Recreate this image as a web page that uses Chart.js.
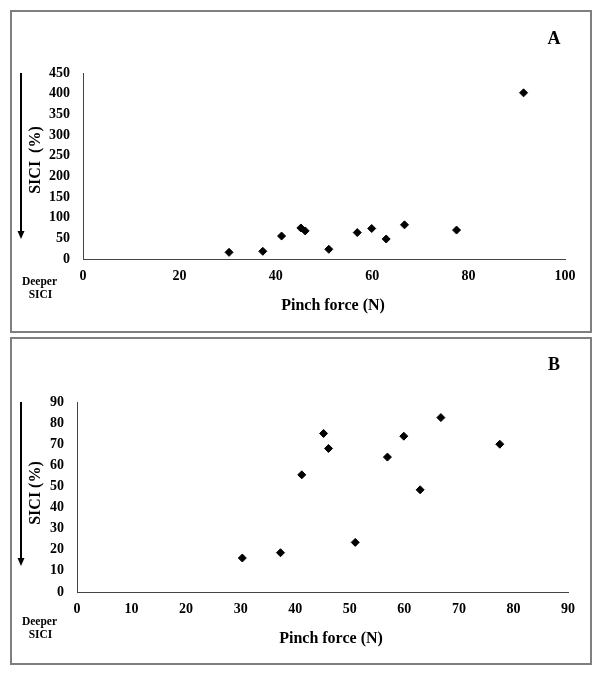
<!DOCTYPE html>
<html>
<head>
<meta charset="utf-8">
<script src="https://cdn.jsdelivr.net/npm/chart.js@4.4.1/dist/chart.umd.min.js"></script>
<style>
  body { margin: 0; background: #fff; }
  .panel { position: absolute; left: 10px; width: 578px; border: 2px solid #7f7f7f; background: #fff; }
  #boxA { top: 10px; height: 319px; }
  #boxB { top: 337px; height: 324px; }
  canvas { display: block; }
</style>
</head>
<body>
<div class="panel" id="boxA"><canvas id="chartA" width="578" height="319"></canvas></div>
<div class="panel" id="boxB"><canvas id="chartB" width="578" height="324"></canvas></div>
<script>
// panel A (all subjects)
const forceA = [30.3, 37.3, 41.2, 45.2, 46.1, 51.0, 56.9, 59.9, 62.9, 66.7, 77.5, 91.4];
const siciA = [16.1, 18.6, 55.5, 75.1, 68.0, 23.5, 63.9, 73.8, 48.4, 82.6, 70.0, 402];

// panel B (outlier removed)
const forceB = [30.3, 37.3, 41.2, 45.2, 46.1, 51.0, 56.9, 59.9, 62.9, 66.7, 77.5];
const siciB = [16.1, 18.6, 55.5, 75.1, 68.0, 23.5, 63.9, 73.8, 48.4, 82.6, 70.0];

const xTitle = "Pinch force (N)";
const yTitleA = "SICI  (%)";
const yTitleB = "SICI (%)";
const deeperLines = ["Deeper", "SICI"];

const serif = "'Liberation Serif', 'Times New Roman', serif";

// draws the arrow, axis titles, "Deeper SICI" and the panel letter
const notesPlugin = {
  id: "notes",
  afterDraw(chart, args, opts) {
    const ctx = chart.ctx;
    const area = chart.chartArea;
    ctx.save();
    ctx.fillStyle = "#000";
    ctx.strokeStyle = "#000";

    // downward arrow
    ctx.lineWidth = 2;
    ctx.beginPath();
    ctx.moveTo(9, area.top);
    ctx.lineTo(9, opts.arrowEnd - 6);
    ctx.stroke();
    ctx.beginPath();
    ctx.moveTo(5.5, opts.arrowEnd - 8);
    ctx.lineTo(12.5, opts.arrowEnd - 8);
    ctx.lineTo(9, opts.arrowEnd);
    ctx.closePath();
    ctx.fill();

    // y title
    ctx.font = "bold 16px " + serif;
    ctx.textAlign = "center";
    ctx.textBaseline = "middle";
    ctx.save();
    ctx.translate(23.5, opts.yTitleY);
    ctx.rotate(-Math.PI / 2);
    ctx.fillText(opts.yTitle, 0, 0);
    ctx.restore();

    // x title
    ctx.fillText(xTitle, opts.xTitleX, opts.xTitleY);

    // deeper SICI
    ctx.font = "bold 11.5px " + serif;
    ctx.fillText(deeperLines[0], 27.5, opts.deeperY);
    ctx.fillText(deeperLines[1], 28.5, opts.deeperY + 13);

    // panel letter
    ctx.font = "bold 18px " + serif;
    ctx.fillText(opts.letter, 542, opts.letterY);
    ctx.restore();
  },
};

function makeChart(id, xs, ys, xMax, xStep, yMax, yStep, pad, axisW, axisH, notes) {
  const ctx = document.getElementById(id).getContext("2d");
  const points = xs.map((x, i) => ({ x, y: ys[i] }));
  const tickFont = { family: serif, size: 14, weight: "bold" };
  return new Chart(ctx, {
    type: "scatter",
    data: {
      datasets: [
        {
          data: points,
          pointStyle: "rectRot",
          pointRadius: 4,
          pointBorderWidth: 1,
          backgroundColor: "#000",
          borderColor: "#000",
        },
      ],
    },
    options: {
      responsive: false,
      animation: false,
      layout: { padding: pad },
      plugins: {
        legend: { display: false },
        tooltip: { enabled: false },
        notes,
      },
      scales: {
        x: {
          type: "linear",
          min: 0,
          max: xMax,
          grid: { display: false, drawTicks: false },
          border: { display: true, color: "#444", width: 1 },
          ticks: { stepSize: xStep, color: "#000", font: tickFont, padding: 9 },
          afterFit(scale) { scale.height = axisH; },
        },
        y: {
          type: "linear",
          min: 0,
          max: yMax,
          grid: { display: false, drawTicks: false },
          border: { display: true, color: "#444", width: 1 },
          ticks: { stepSize: yStep, color: "#000", font: tickFont, padding: 13 },
          afterFit(scale) { scale.width = axisW; },
        },
      },
    },
    plugins: [notesPlugin],
  });
}

makeChart("chartA", forceA, siciA, 100, 20, 450, 50,
  { left: 0, top: 61, right: 25, bottom: 0 }, 71, 72,
  { letter: "A", letterY: 27, arrowEnd: 227, yTitle: yTitleA, yTitleY: 148,
    xTitleX: 321, xTitleY: 294, deeperY: 270 });

makeChart("chartB", forceB, siciB, 90, 10, 90, 10,
  { left: 0, top: 63, right: 22, bottom: 0 }, 65, 71,
  { letter: "B", letterY: 26, arrowEnd: 227, yTitle: yTitleB, yTitleY: 154,
    xTitleX: 319, xTitleY: 300, deeperY: 283 });
</script>
</body>
</html>
